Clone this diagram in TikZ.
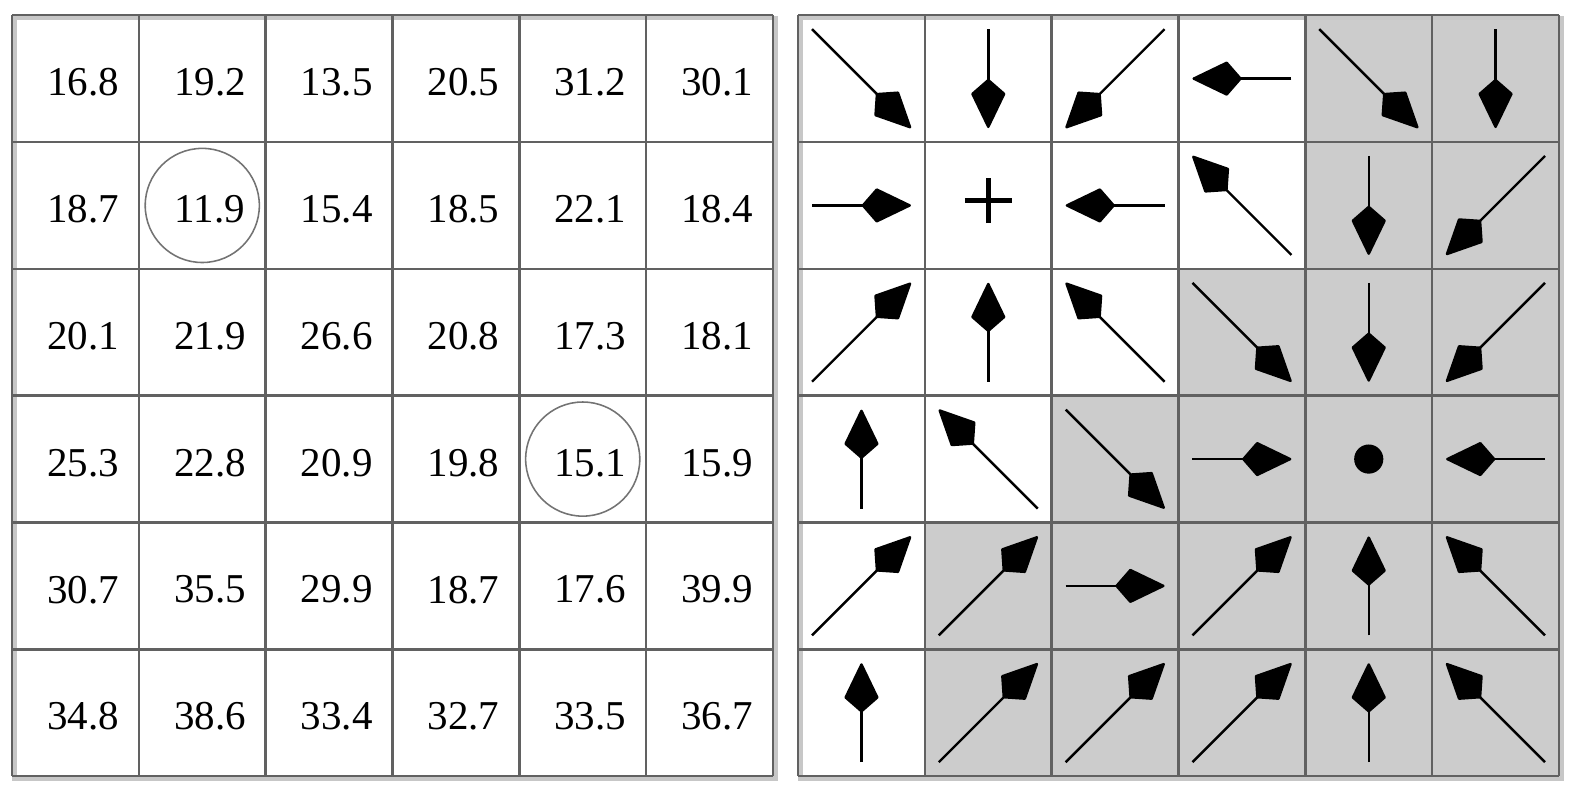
\documentclass[tikz,border=0pt]{standalone}
\usepackage{fontspec}
\setmainfont{Liberation Serif}
\usetikzlibrary{arrows.meta}
\tikzset{
  gridline/.style={draw=black!62, line width=0.55pt},
  shadowline/.style={draw=black!22, line width=1pt},
  val/.style={font=\fontsize{9.2}{11}\selectfont, inner sep=0pt},
  ring/.style={draw=black!55, line width=0.35pt, circle, minimum size=0.9cm, inner sep=0pt},
  flow/.style={line width=0.55pt, -{Kite[length=11.5pt, width=7.8pt, inset=3.4pt, round]}},
}
\begin{document}
\begin{tikzpicture}
  \useasboundingbox (0,0) rectangle (12.38,6.23);
  % left grid with the values
  \begin{scope}[shift={(0.095,0.110)}]
    \draw[shadowline] (0.02,-0.02) rectangle (6.02,5.98);
    \draw[gridline] (0,0) grid (6,6);
    \foreach \row/\vals in {0/{16.8,19.2,13.5,20.5,31.2,30.1},
                            1/{18.7,11.9,15.4,18.5,22.1,18.4},
                            2/{20.1,21.9,26.6,20.8,17.3,18.1},
                            3/{25.3,22.8,20.9,19.8,15.1,15.9},
                            4/{30.7,35.5,29.9,18.7,17.6,39.9},
                            5/{34.8,38.6,33.4,32.7,33.5,36.7}}
      \foreach \v [count=\col from 0] in \vals
        \node[val] (v-\row-\col) at ({\col+0.56}, {5.47-\row}) {\v};
    \node[ring] (m-1-1) at (1.5, 4.5) {};
    \node[ring] (m-3-4) at (4.5, 2.5) {};
  \end{scope}
  % right grid with the directions
  \begin{scope}[shift={(6.293,0.110)}]
    \fill[black!20] (4,6) -- (6,6) -- (6,0) -- (1,0) -- (1,2) -- (2,2)
      -- (2,3) -- (3,3) -- (3,4) -- (4,4) -- cycle;
    \draw[shadowline] (0.02,-0.02) rectangle (6.02,5.98);
    \draw[gridline] (0,0) grid (6,6);
    \foreach \row/\col/\dx/\dy in {0/0/1/-1, 0/1/0/-1, 0/2/-1/-1, 0/3/-1/0, 0/4/1/-1, 0/5/0/-1,
                                   1/0/1/0, 1/2/-1/0, 1/3/-1/1, 1/4/0/-1, 1/5/-1/-1,
                                   2/0/1/1, 2/1/0/1, 2/2/-1/1, 2/3/1/-1, 2/4/0/-1, 2/5/-1/-1,
                                   3/0/0/1, 3/1/-1/1, 3/2/1/-1, 3/3/1/0, 3/5/-1/0,
                                   4/0/1/1, 4/1/1/1, 4/2/1/0, 4/3/1/1, 4/4/0/1, 4/5/-1/1,
                                   5/0/0/1, 5/1/1/1, 5/2/1/1, 5/3/1/1, 5/4/0/1, 5/5/-1/1}
      \draw[flow] ({\col+0.5-0.39*\dx}, {5.5-\row-0.39*\dy})
        -- ({\col+0.5+0.39*\dx}, {5.5-\row+0.39*\dy});
    \draw[line width=1.05pt] (1.315,4.54) -- (1.685,4.54) (1.5,4.36) -- (1.5,4.72);
    \fill (4.5,2.5) circle (0.115);
  \end{scope}
\end{tikzpicture}
\end{document}
